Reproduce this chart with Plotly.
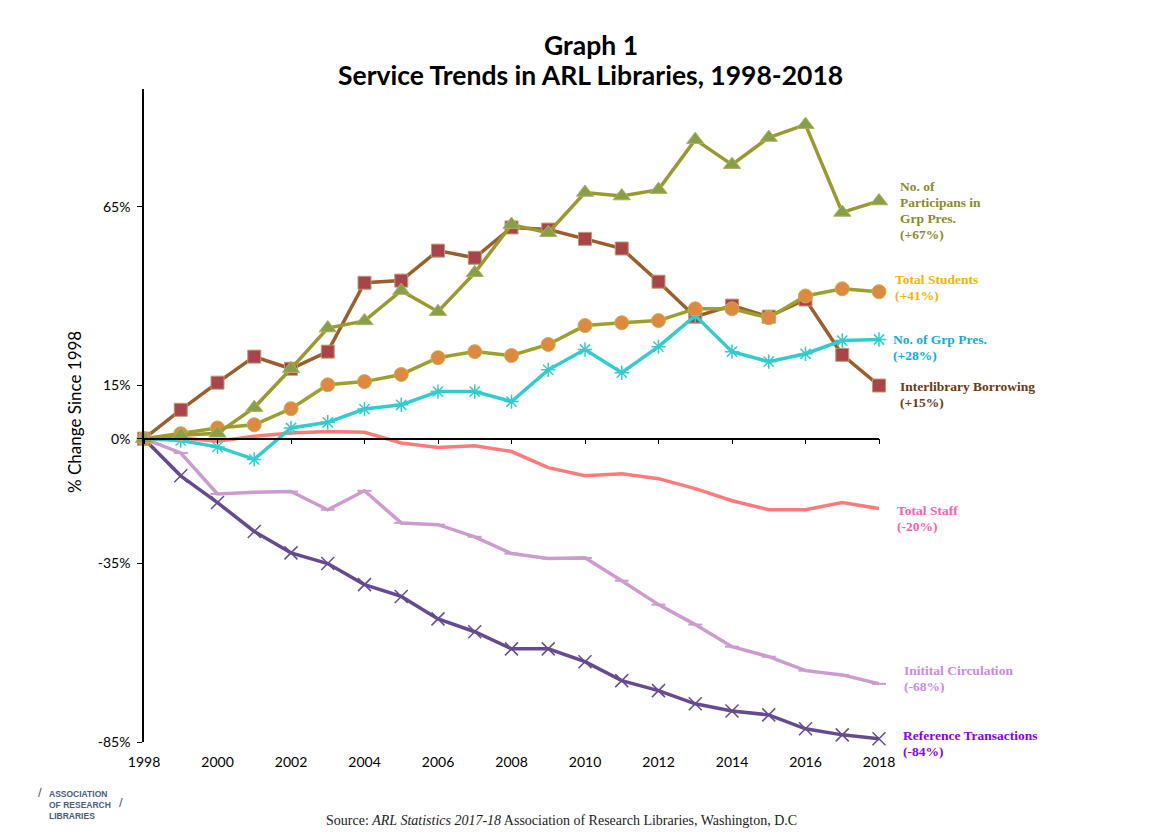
import plotly.graph_objects as go

years = list(range(1998, 2019))

participants_grp_pres = [0, 1, 1.5, 8.7, 19.6, 31, 33, 41.5, 35.6, 46.5, 60, 57.7, 69, 68, 69.8, 83.8, 76.8, 84.4, 88, 63.4, 66.6]
interlibrary_borrowing = [0, 8.1, 15.7, 23, 19.6, 24.4, 43.7, 44.3, 52.7, 50.7, 59.2, 58.6, 56, 53.3, 44, 34.2, 37.3, 34.2, 39, 23.5, 14.9]
total_students = [0, 1.4, 3, 3.9, 8.4, 15.1, 16, 18, 22.7, 24.4, 23.3, 26.4, 31.7, 32.5, 33.1, 36.4, 36.4, 33.9, 40, 42, 41.2]
grp_pres = [0, -0.5, -2.3, -5.8, 3, 4.6, 8.3, 9.5, 13.2, 13.2, 10.4, 19.3, 25, 18.5, 25.8, 34.5, 24.4, 21.6, 23.8, 27.5, 27.8]
total_staff = [0, 0.2, -0.7, 0.7, 1.6, 2, 1.8, -1.2, -2.5, -2, -3.6, -8.1, -10.4, -9.8, -11.2, -14, -17.4, -19.9, -19.9, -17.9, -19.6]
initial_circulation = [0, -4, -15.5, -15, -14.8, -19.9, -14.6, -23.6, -24.1, -27.5, -32.2, -33.6, -33.4, -39.8, -46.5, -52.1, -58.3, -61.1, -65, -66.2, -68.7]
reference_transactions = [0, -10.4, -17.9, -26, -32, -35, -40.9, -44.2, -50.5, -54.1, -58.9, -58.9, -62.5, -67.8, -70.6, -74.3, -76.3, -77.4, -81.3, -83, -84.1]

y_ticks = [65, 15, 0, -35, -85]
y_ticktext = ["65%", "15%", "0%", "-35%", "-85%"]
x_ticks = list(range(1998, 2019, 2))

labels = [
    (["No. of", "Participans in", "Grp Pres.", "(+67%)"], 64, 19, "#8b8b2a"),
    (["Total Students", "(+41%)"], 42.3, 14, "#f5b400"),
    (["No. of Grp Pres.", "(+28%)"], 25.5, 12, "#0aaee8"),
    (["Interlibrary Borrowing", "(+15%)"], 12.3, 19, "#6b3a10"),
    (["Total Staff", "(-20%)"], -22.4, 16, "#ff5fae"),
    (["Initital Circulation", "(-68%)"], -67.3, 23, "#cc8ae8"),
    (["Reference Transactions", "(-84%)"], -85.5, 22, "#8a00ee"),
]

Y_MIN, Y_MAX = -85, 98
LINE_GAP = 16

fig = go.Figure()

fig.add_trace(go.Scatter(x=years, y=reference_transactions, mode="lines+markers",
                         line=dict(color="#664c8f", width=3.5),
                         marker=dict(symbol="x-thin-open", size=13, line=dict(color="#664c8f", width=1.5)),
                         cliponaxis=False))
fig.add_trace(go.Scatter(x=years, y=initial_circulation, mode="lines+markers",
                         line=dict(color="#cc9ccf", width=3.5),
                         marker=dict(symbol="line-ew-open", size=10, line=dict(color="#a8b098", width=2)),
                         cliponaxis=False))
fig.add_trace(go.Scatter(x=years, y=total_staff, mode="lines",
                         line=dict(color="#ff7b7b", width=3.5), cliponaxis=False))
fig.add_trace(go.Scatter(x=years, y=interlibrary_borrowing, mode="lines+markers",
                         line=dict(color="#9a5f2c", width=3.5),
                         marker=dict(symbol="square", size=13, color="#a8444a", line=dict(color="#c09a70", width=1)),
                         cliponaxis=False))
fig.add_trace(go.Scatter(x=years, y=grp_pres, mode="lines+markers",
                         line=dict(color="#33cccc", width=3.5),
                         marker=dict(symbol="asterisk-open", size=12, line=dict(color="#33cccc", width=1.5)),
                         cliponaxis=False))
fig.add_trace(go.Scatter(x=years, y=total_students, mode="lines+markers",
                         line=dict(color="#9ca12e", width=3.5),
                         marker=dict(symbol="circle", size=14, color="#de8840", line=dict(color="#c8b050", width=1)),
                         cliponaxis=False))
fig.add_trace(go.Scatter(x=years, y=participants_grp_pres, mode="lines+markers",
                         line=dict(color="#9a9a30", width=3.5),
                         marker=dict(symbol="triangle-up", size=15, color="#87a048", line=dict(color="#b0b060", width=1)),
                         cliponaxis=False))

# helper trace to carry the zero-level axis
fig.add_trace(go.Scatter(x=[1998, 2018], y=[0, 0], xaxis="x2", mode="lines",
                         line=dict(width=0), hoverinfo="skip", showlegend=False))

annotations = []
for lines, yv, xs, col in labels:
    n = len(lines)
    yp = (yv - Y_MIN) / (Y_MAX - Y_MIN)
    for i, ln in enumerate(lines):
        annotations.append(dict(x=1, y=yp, xref="paper", yref="paper", text="<b>" + ln + "</b>", showarrow=False,
                                xanchor="left", yanchor="middle", align="left", xshift=xs,
                                yshift=((n - 1) / 2 - i) * LINE_GAP,
                                font=dict(family="Liberation Serif", size=13.5, color=col)))

annotations += [
    dict(x=0.5, y=1, xref="paper", yref="paper", text="<b>Graph 1</b>", showarrow=False,
         yshift=44, xshift=79, yanchor="middle",
         font=dict(family="Lato", size=26.5, color="black")),
    dict(x=0.5, y=1, xref="paper", yref="paper", text="<b>Service Trends in ARL Libraries, 1998-2018</b>",
         showarrow=False, yshift=14, xshift=79, yanchor="middle",
         font=dict(family="Lato", size=26.5, color="black")),
    dict(x=0, y=0.5, xref="paper", yref="paper", text="% Change Since 1998", showarrow=False,
         textangle=-90, xshift=-82, yshift=3, font=dict(family="Lato", size=17, color="black")),
    dict(x=0.5, y=0, xref="paper", yref="paper",
         text="Source: <i>ARL Statistics 2017-18</i> Association of Research Libraries, Washington, D.C",
         showarrow=False, yshift=-78, xshift=50, yanchor="middle",
         font=dict(family="Liberation Serif", size=14, color="#222222")),
    dict(x=0, y=0, xref="paper", yref="paper",
         text="<b>ASSOCIATION<br>OF RESEARCH<br>LIBRARIES</b>",
         showarrow=False, xshift=-64, yshift=-63, align="left", xanchor="center", yanchor="middle",
         font=dict(family="Liberation Sans Narrow, Liberation Sans", size=8.5, color="#4a5d7a")),
    dict(x=0, y=0, xref="paper", yref="paper", text="/", showarrow=False,
         xshift=-108, yshift=-60, font=dict(family="Liberation Sans", size=13, color="#4a5d7a")),
    dict(x=0, y=0, xref="paper", yref="paper", text="/", showarrow=False,
         xshift=-27, yshift=-70, font=dict(family="Liberation Sans", size=13, color="#4a5d7a")),
]

fig.update_layout(
    width=1150, height=831,
    margin=dict(l=136, r=279, t=81, b=97),
    paper_bgcolor="white", plot_bgcolor="white",
    showlegend=False,
    annotations=annotations,
    xaxis=dict(range=[1998, 2018], tickvals=x_ticks, ticktext=[str(v) for v in x_ticks],
               showgrid=False, zeroline=False, showline=False, ticks="",
               ticklabelstandoff=10,
               tickfont=dict(family="Lato", size=14, color="black")),
    xaxis2=dict(range=[1998, 2018], overlaying="x", anchor="free",
                position=(0 - Y_MIN) / (Y_MAX - Y_MIN), side="bottom",
                tickvals=x_ticks, showticklabels=False, ticks="outside", ticklen=5,
                tickcolor="black", showgrid=False, zeroline=False,
                showline=True, linecolor="black", linewidth=1.5),
    yaxis=dict(range=[Y_MIN, Y_MAX], tickvals=y_ticks, ticktext=y_ticktext,
               showgrid=False, zeroline=False, showline=True, linecolor="black", linewidth=1.5,
               ticks="outside", ticklen=5, tickcolor="black", ticklabelstandoff=4,
               tickfont=dict(family="Lato", size=14, color="black")),
)

fig.write_html("out.html")
